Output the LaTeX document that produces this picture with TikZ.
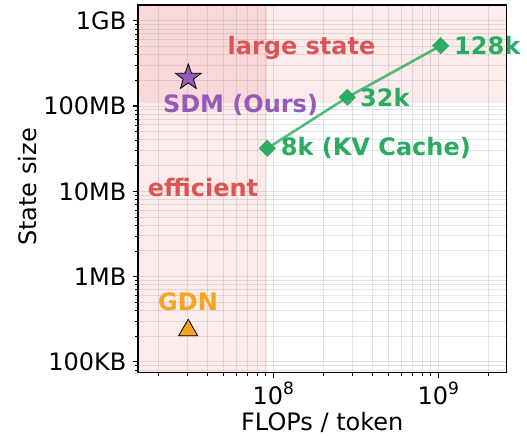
\documentclass[tikz,border=0pt]{standalone}
\usepackage{fontspec}
\setmainfont{DejaVu Sans}
\usetikzlibrary{shapes.geometric}

\definecolor{zonered}{RGB}{214,39,40}
\definecolor{labelred}{RGB}{222,84,84}
\definecolor{sdmpurple}{RGB}{150,90,185}
\definecolor{kvgreen}{RGB}{40,172,96}
\definecolor{gdnorange}{RGB}{245,164,35}

\tikzset{
  zone/.style={fill=zonered, fill opacity=0.095, draw=none},
  gridline/.style={draw=black!55, draw opacity=0.19, line width=0.9pt},
  spine/.style={draw=black, line width=1.1pt},
  majortick/.style={draw=black, line width=1.1pt},
  minortick/.style={draw=black, line width=0.8pt},
  ticklabel/.style={font=\fontsize{24}{26}\selectfont, inner sep=0pt},
  axislabel/.style={font=\fontsize{24}{26}\selectfont, inner sep=0pt},
  tag/.style={font=\fontsize{24}{26}\bfseries, inner sep=0pt},
  kvline/.style={draw=kvgreen, draw opacity=0.8, line width=2.6pt},
  kvmark/.style={diamond, fill=kvgreen, fill opacity=0.85, draw=none,
    minimum width=17pt, minimum height=17pt, inner sep=0pt},
}

\begin{document}
\begin{tikzpicture}[x=1pt, y=-1pt]
  \useasboundingbox (0,0) rectangle (527,436);

  % axes frame in pixel units (y grows downward)
  \def\xL{138}  \def\xR{506.7}
  \def\yT{5}    \def\yB{372.7}

  % shaded regimes: large state (top band) and efficient (left band)
  \path[zone] (\xL,\yT) rectangle (\xR,102.5);
  \path[zone] (\xL,\yT) rectangle (266.5,\yB);

  % log grid
  \begin{scope}
    \clip (\xL,\yT) rectangle (\xR,\yB);
    \foreach \k in {7,8,9}{
      \foreach \m in {1,...,9}{
        \pgfmathsetmacro\gx{273.3+165*(ln(\m)/ln(10)+\k-8)}
        \draw[gridline] (\gx,\yT) -- (\gx,\yB);
      }
    }
    \foreach \k in {4,...,9}{
      \foreach \m in {1,...,9}{
        \pgfmathsetmacro\gy{20.7-85.3*(ln(\m)/ln(10)+\k-9)}
        \draw[gridline] (\xL,\gy) -- (\xR,\gy);
      }
    }
  \end{scope}

  % KV cache series
  \node[kvmark] (d8)   at (267.3,148.3) {};
  \node[kvmark] (d32)  at (347.3,97.3)  {};
  \node[kvmark] (d128) at (440.7,45.7)  {};
  \draw[kvline] (d8.center) -- (d32.center) -- (d128.center);
  \node[kvmark] at (d8)   {};
  \node[kvmark] at (d32)  {};
  \node[kvmark] at (d128) {};

  % SDM and GDN markers
  \node[star, star points=5, star point ratio=2.5, minimum size=27pt,
        inner sep=0pt, fill=sdmpurple, draw=black, line width=0.8pt]
        (sdm) at (188.3,77.5) {};
  \node[regular polygon, regular polygon sides=3, minimum size=22pt,
        inner sep=0pt, fill=gdnorange, draw=black, line width=0.8pt]
        (gdn) at (188.2,330.3) {};

  % region and series labels
  \node[tag, text=labelred] (lslabel) at (301.5,48) {large state};
  \node[tag, text=labelred] (eflabel) at (203,188) {efficient};
  \node[tag, text=sdmpurple] (sdmlabel) at (240.5,105) {SDM (Ours)};
  \node[tag, text=gdnorange] (gdnlabel) at (188,301.7) {GDN};
  \node[tag, text=kvgreen, anchor=west] (l128) at (454,45.7) {128k};
  \node[tag, text=kvgreen, anchor=west] (l32)  at (360,97.3) {32k};
  \node[tag, text=kvgreen, anchor=west] (l8)   at (280.7,148) {8k (KV Cache)};

  % x ticks
  \foreach \k/\ms in {7/{2,3,4,5,6,7,8,9}, 8/{2,3,4,5,6,7,8,9}, 9/{2}}{
    \foreach \m in \ms{
      \pgfmathsetmacro\gx{273.3+165*(ln(\m)/ln(10)+\k-8)}
      \draw[minortick] (\gx,\yB) -- (\gx,\yB+2.8);
    }
  }
  \foreach \k in {8,9}{
    \pgfmathsetmacro\gx{273.3+165*(\k-8)}
    \draw[majortick] (\gx,\yB) -- (\gx,\yB+4.9);
    \node[ticklabel, anchor=north] (xt\k) at (\gx,381.5)
      {10\raisebox{0.42em}{\fontsize{17}{18}\selectfont\k}};
  }

  % y ticks
  \foreach \k/\ms in {4/{8,9}, 5/{2,3,4,5,6,7,8,9}, 6/{2,3,4,5,6,7,8,9},
                      7/{2,3,4,5,6,7,8,9}, 8/{2,3,4,5,6,7,8,9}}{
    \foreach \m in \ms{
      \pgfmathsetmacro\gy{20.7-85.3*(ln(\m)/ln(10)+\k-9)}
      \draw[minortick] (\xL,\gy) -- (\xL-2.8,\gy);
    }
  }
  \foreach \k/\txt in {9/1GB, 8/100MB, 7/10MB, 6/1MB, 5/100KB}{
    \pgfmathsetmacro\gy{20.7-85.3*(\k-9)}
    \draw[majortick] (\xL,\gy) -- (\xL-4.9,\gy);
    \node[ticklabel, anchor=east] (yt\k) at (126.5,\gy) {\txt};
  }

  % frame
  \draw[spine] (\xL,\yT) rectangle (\xR,\yB);

  % axis titles
  \node[axislabel, anchor=base] (xtitle) at (322.3,430.5) {FLOPs / token};
  \node[axislabel, anchor=base, rotate=90] (ytitle) at (36,187) {State size};
\end{tikzpicture}
\end{document}
